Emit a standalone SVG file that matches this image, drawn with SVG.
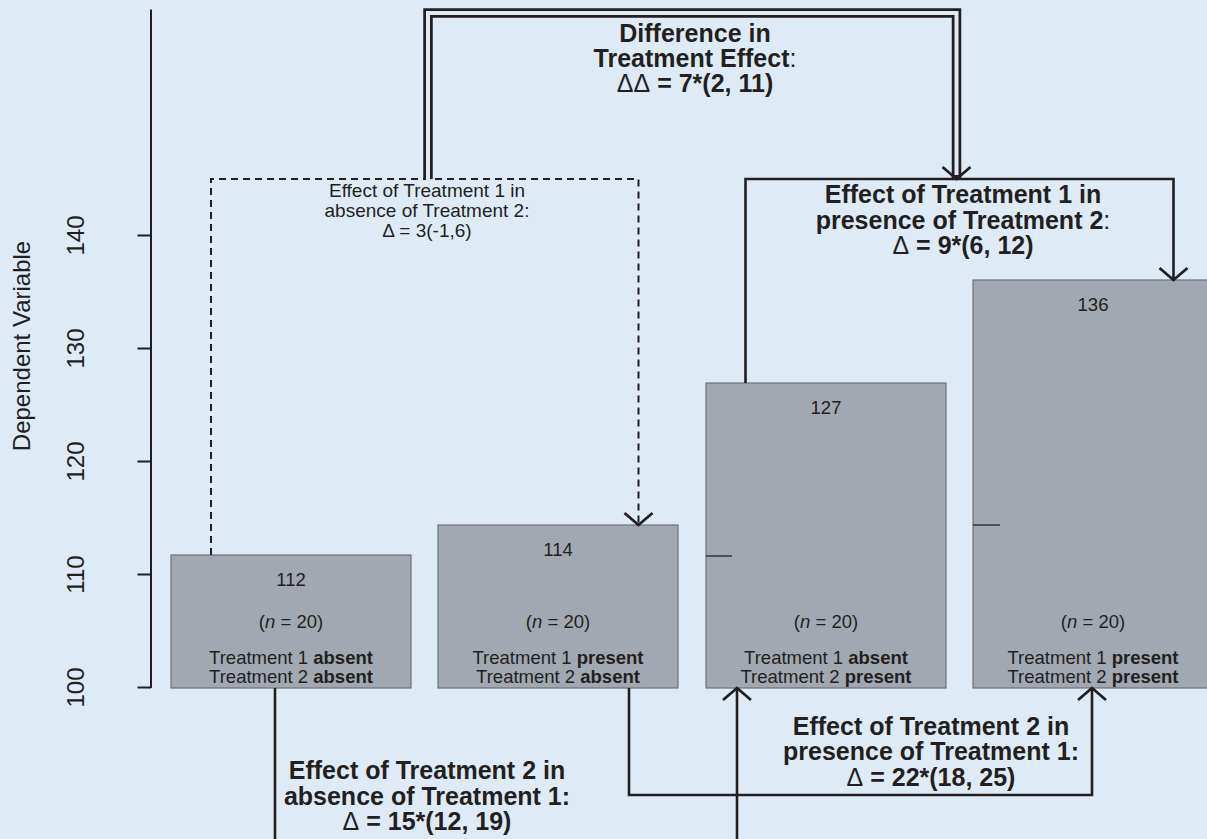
<svg xmlns="http://www.w3.org/2000/svg" width="1207" height="839" viewBox="0 0 1207 839">
<defs>
<style>
text{font-family:"Liberation Sans",Arial,Helvetica,sans-serif;fill:#231f20;text-anchor:middle}
.bar{fill:#a1a8b1;stroke:#6f7277;stroke-width:1.2}
.val{font-size:18.5px}
.cond{font-size:18.5px}
.big{font-size:25px;font-weight:bold}
.sm{font-size:19px}
.tick{font-size:24px}
.ln{fill:none;stroke:#231f20;stroke-width:2.6}
.dash{fill:none;stroke:#231f20;stroke-width:2;stroke-dasharray:7 5}
.mark{stroke:#2b2b2b;stroke-width:1.4}
.nb{font-weight:normal}
.b{font-weight:bold}
</style>
<marker id="arr" markerUnits="userSpaceOnUse" markerWidth="40" markerHeight="40" viewBox="-20 -20 40 40" refX="0" refY="0" orient="auto">
<path d="M -12 -14 L 0 0 L -12 14" fill="none" stroke="#231f20" stroke-width="2.8" stroke-dasharray="none"/>
</marker>
</defs>
<rect width="1207" height="839" fill="#deebf7"/>
<g id="axis">
<path d="M151 9.5 V688 M137.5 687.5 H151 M137.5 574.5 H151 M137.5 461.5 H151 M137.5 348.5 H151 M137.5 235.5 H151" fill="none" stroke="#231f20" stroke-width="2"/>
<text class="tick" transform="translate(84 687.5) rotate(-90)">100</text>
<text class="tick" transform="translate(84 574.5) rotate(-90)">110</text>
<text class="tick" transform="translate(84 461.5) rotate(-90)">120</text>
<text class="tick" transform="translate(84 348.5) rotate(-90)">130</text>
<text class="tick" transform="translate(84 235.5) rotate(-90)">140</text>
<text class="tick" transform="translate(30 346) rotate(-90)">Dependent Variable</text>
</g>
<g id="bar1">
<rect class="bar" x="171" y="555" width="240" height="133"/>
<text class="val" x="291" y="586">112</text>
<text class="cond" x="291" y="628">(<tspan font-style="italic">n</tspan> = 20)</text>
<text class="cond" x="291" y="664">Treatment 1 <tspan class="b">absent</tspan><tspan x="291" dy="19">Treatment 2 </tspan><tspan class="b">absent</tspan></text>
</g>
<g id="bar2">
<rect class="bar" x="438" y="525" width="240" height="163"/>
<text class="val" x="558" y="556">114</text>
<text class="cond" x="558" y="628">(<tspan font-style="italic">n</tspan> = 20)</text>
<text class="cond" x="558" y="664">Treatment 1 <tspan class="b">present</tspan><tspan x="558" dy="19">Treatment 2 </tspan><tspan class="b">absent</tspan></text>
</g>
<g id="bar3">
<rect class="bar" x="706" y="383" width="240" height="305"/>
<line class="mark" x1="706" y1="556" x2="732" y2="556"/>
<text class="val" x="826" y="414">127</text>
<text class="cond" x="826" y="628">(<tspan font-style="italic">n</tspan> = 20)</text>
<text class="cond" x="826" y="664">Treatment 1 <tspan class="b">absent</tspan><tspan x="826" dy="19">Treatment 2 </tspan><tspan class="b">present</tspan></text>
</g>
<g id="bar4">
<rect class="bar" x="973" y="280" width="240" height="408"/>
<line class="mark" x1="973" y1="525" x2="1000" y2="525"/>
<text class="val" x="1093" y="311">136</text>
<text class="cond" x="1093" y="628">(<tspan font-style="italic">n</tspan> = 20)</text>
<text class="cond" x="1093" y="664">Treatment 1 <tspan class="b">present</tspan><tspan x="1093" dy="19">Treatment 2 </tspan><tspan class="b">present</tspan></text>
</g>
<g id="connectors">
<path class="dash" d="M211 555 V179 H638.5 V525" marker-end="url(#arr)"/>
<path d="M428 179 V13 H956.5 V179" fill="none" stroke="#231f20" stroke-width="9.5" stroke-linejoin="miter"/>
<path d="M428 181 V13 H956.5 V175" fill="none" stroke="#deebf7" stroke-width="4" stroke-linejoin="miter"/>
<path d="M956.5 170 V179" fill="none" stroke="none" marker-end="url(#arr)"/>
<path class="ln" d="M745.5 383 V179 H1173.5 V280" marker-end="url(#arr)"/>
<path class="ln" d="M275 688 V839"/>
<path class="ln" d="M737 839 V688" marker-end="url(#arr)"/>
<path class="ln" d="M629 688 V795 H1092 V688" marker-end="url(#arr)"/>
</g>
<g id="label-diff">
<text class="big" x="695" y="42">Difference in<tspan x="695" dy="25">Treatment Effect</tspan><tspan class="nb">:</tspan><tspan x="695" dy="25" class="nb">ΔΔ</tspan> = 7*(2, 11)</text>
</g>
<g id="label-t1-absent">
<text class="sm" x="427" y="197">Effect of Treatment 1 in<tspan x="427" dy="20">absence of Treatment 2:</tspan><tspan x="427" dy="20">Δ = 3(-1,6)</tspan></text>
</g>
<g id="label-t1-present">
<text class="big" x="963" y="203">Effect of Treatment 1 in<tspan x="963" dy="26">presence of Treatment 2</tspan><tspan class="nb">:</tspan><tspan x="963" dy="25" class="nb">Δ</tspan> = 9*(6, 12)</text>
</g>
<g id="label-t2-absent">
<text class="big" x="427" y="779">Effect of Treatment 2 in<tspan x="427" dy="26">absence of Treatment 1:</tspan><tspan x="427" dy="25" class="nb">Δ</tspan> = 15*(12, 19)</text>
</g>
<g id="label-t2-present">
<text class="big" x="931" y="735">Effect of Treatment 2 in<tspan x="931" dy="25">presence of Treatment 1:</tspan><tspan x="931" dy="26" class="nb">Δ</tspan> = 22*(18, 25)</text>
</g>
</svg>
